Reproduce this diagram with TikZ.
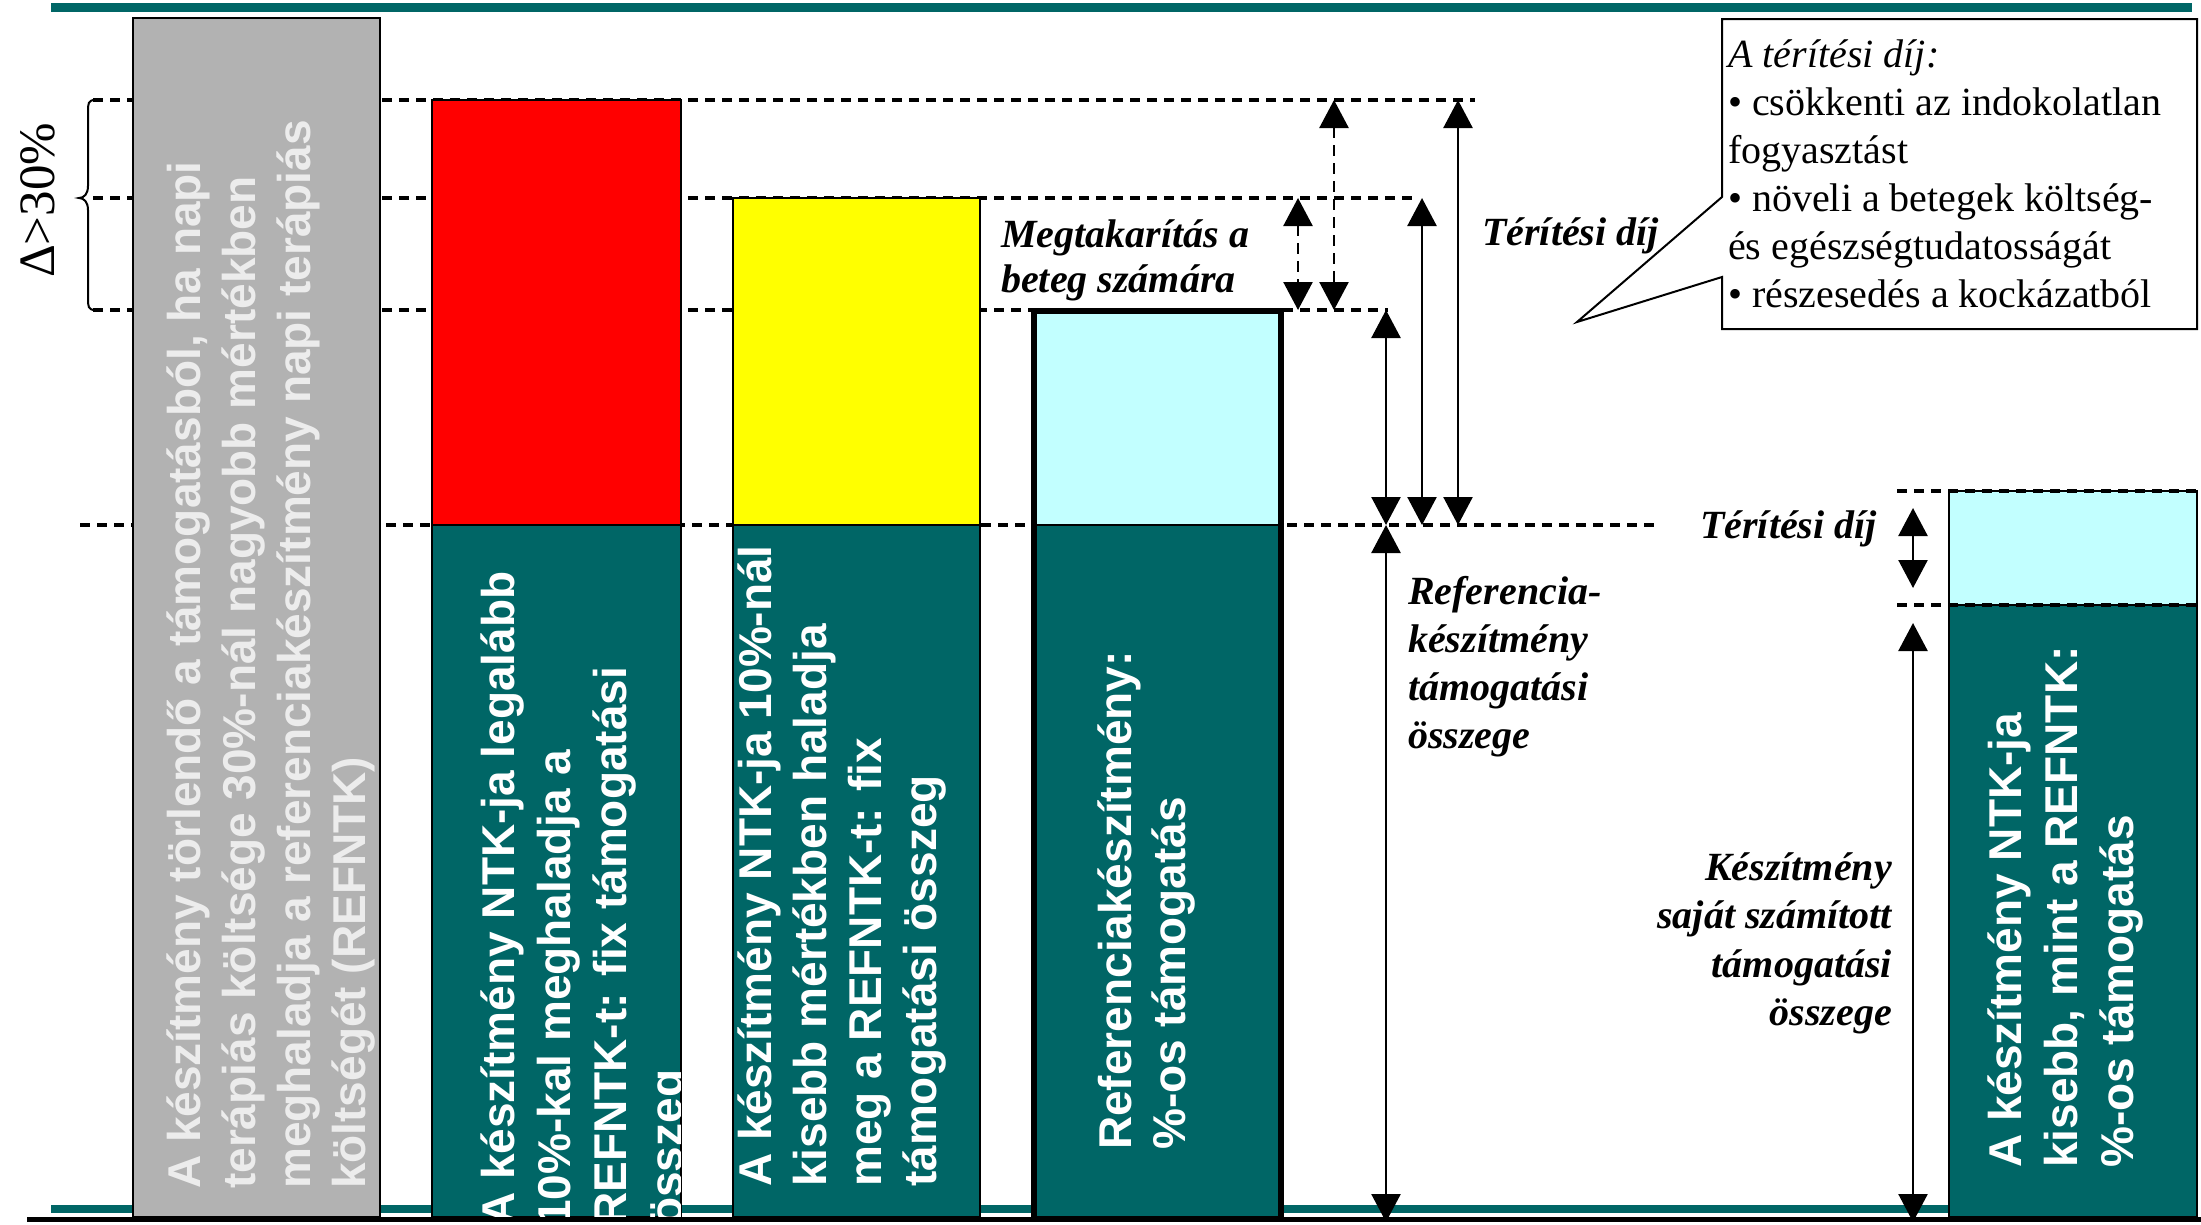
\documentclass[tikz,border=0pt]{standalone}
\usepackage{fontspec}
\setmainfont{Liberation Serif}
\newfontfamily\barfont{Liberation Sans}
\usetikzlibrary{arrows.meta}

\definecolor{barteal}{RGB}{0,102,102}
\definecolor{bargrey}{RGB}{178,178,178}
\definecolor{greytext}{RGB}{236,236,236}
\definecolor{feecyan}{RGB}{194,255,255}
\definecolor{pureyellow}{RGB}{255,255,0}

\begin{document}
\begin{tikzpicture}[x=1pt,y=-1pt,
  levelline/.style={line width=3.2pt, dash pattern=on 10pt off 7pt},
  barframe/.style={draw=black, line width=2pt},
  bartxt/.style={rotate=90, anchor=base west, inner sep=0pt, text=white,
    font=\barfont\bfseries\fontsize{46}{55}\selectfont},
  lbl/.style={inner sep=0pt, anchor=base west,
    font=\bfseries\itshape\fontsize{40}{48}\selectfont},
  lblr/.style={lbl, anchor=base east},
  notetxt/.style={inner sep=0pt, anchor=base west, font=\fontsize{40}{48}\selectfont},
  dimarrow/.style={line width=2.5pt,
    {Triangle[length=28pt,width=29pt]}-{Triangle[length=28pt,width=29pt]}},
  dimarrowdash/.style={dimarrow, dash pattern=on 11pt off 7pt}]

\useasboundingbox (0,0) rectangle (2201,1224);

% teal rules at top and bottom
\draw[barteal, line width=9pt] (51,7.5) -- (2192,7.5);
\draw[barteal, line width=8pt] (51,1209) -- (2192,1209);

% reference levels
\coordinate (LA0) at (93,100);   \coordinate (LA1) at (1475,100);
\coordinate (LB0) at (93,198);   \coordinate (LB1) at (1419,198);
\coordinate (LC0) at (93,310);   \coordinate (LC1) at (1388,310);
\coordinate (LD0) at (80,525);   \coordinate (LD1) at (1660,525);
\coordinate (LE0) at (1897,491); \coordinate (LE1) at (2197,491);
\coordinate (LF0) at (1897,605); \coordinate (LF1) at (2197,605);
\foreach \l in {A,B,C,D}
  \draw[levelline] (L\l0) -- (L\l1);

% bar 1: grey
\path[fill=bargrey, barframe] (133,18) rectangle (380,1217);
% bar 2: red over teal
\path[fill=red, barframe] (432,100) rectangle (681,525);
\path[fill=barteal, barframe] (432,525) rectangle (681,1217);
% bar 3: yellow over teal
\path[fill=pureyellow, barframe] (733,198) rectangle (980,525);
\path[fill=barteal, barframe] (733,525) rectangle (980,1217);
% bar 4: reference product, heavy frame
\path[fill=feecyan, barframe] (1034,311) rectangle (1281,525);
\path[fill=barteal, barframe] (1034,525) rectangle (1281,1219);
\draw[line width=6pt] (1034,311) rectangle (1281,1219);
% bar 5: product cheaper than the reference
\path[fill=feecyan, barframe] (1949,491) rectangle (2197,605);
\path[fill=barteal, barframe] (1949,605) rectangle (2197,1217);
\foreach \l in {E,F}
  \draw[levelline] (L\l0) -- (L\l1);

% bar texts
\begin{scope}
  \clip (134,19) rectangle (379,1216);
  \foreach \t [count=\i from 0] in {{A készítmény törlendő a támogatásból, ha napi},
      {terápiás költsége 30\%-nál nagyobb mértékben},
      {meghaladja a referenciakészítmény napi terápiás},
      {költségét (REFNTK)}}
    \node[bartxt, text=greytext] (g\i) at ({200+55*\i},1189) {\t};
\end{scope}
\begin{scope}
  \clip (433,526) rectangle (680,1216);
  \foreach \t [count=\i from 0] in {{A készítmény NTK-ja legalább},
      {10\%-kal meghaladja a},{REFNTK-t: fix támogatási},{összeg}}
    \node[bartxt] (r\i) at ({514+56*\i},1226) {\t};
\end{scope}
\begin{scope}
  \clip (734,526) rectangle (979,1216);
  \foreach \t [count=\i from 0] in {{A készítmény NTK-ja 10\%-nál},
      {kisebb mértékben haladja},{meg a REFNTK-t: fix},{támogatási összeg}}
    \node[bartxt] (y\i) at ({771+55*\i},1187) {\t};
\end{scope}
\foreach \t [count=\i from 0] in {{Referenciakészítmény:},{\%-os támogatás}}
  \node[bartxt] (c\i) at ({1131+54*\i},1150) {\t};
\foreach \t [count=\i from 0] in {{A készítmény NTK-ja},
    {kisebb, mint a REFNTK:},{\%-os támogatás}}
  \node[bartxt] (k\i) at ({2021+56*\i},1168) {\t};

% base line
\draw[line width=5pt] (27,1219.5) -- (2201,1219.5);

% brace marking the 30 % band
\draw[line width=2pt] (95,100) .. controls (88,100) and (88,104) .. (88,112)
  -- (88,186) .. controls (88,194) and (84,198) .. (79,198)
  .. controls (84,198) and (88,202) .. (88,210)
  -- (88,298) .. controls (88,306) and (88,310) .. (95,310);
\node[rotate=90, anchor=base west, inner sep=0pt,
  font=\fontsize{51}{60}\selectfont] (delta) at (54,278) {Δ>30\%};

% dimension arrows
\coordinate (d1t) at (1334,100); \coordinate (d1b) at (1334,310);
\coordinate (d2t) at (1298,198); \coordinate (d2b) at (1298,310);
\coordinate (d3t) at (1386,310); \coordinate (d3b) at (1386,525);
\coordinate (d4t) at (1422,198); \coordinate (d4b) at (1422,525);
\coordinate (d5t) at (1458,100); \coordinate (d5b) at (1458,525);
\coordinate (d6t) at (1386,525); \coordinate (d6b) at (1386,1222);
\coordinate (d7t) at (1913,508); \coordinate (d7b) at (1913,588);
\coordinate (d8t) at (1913,623); \coordinate (d8b) at (1913,1222);
\draw[dimarrowdash] (d1t) -- (d1b);
\draw[dimarrowdash] (d2t) -- (d2b);
\foreach \a in {3,...,8}
  \draw[dimarrow] (d\a t) -- (d\a b);

% labels
\node[lbl] (sav1) at (1001,247) {Megtakarítás a};
\node[lbl] (sav2) at (1001,292) {beteg számára};
\node[lbl] (fee1) at (1482,245) {Térítési díj};
\node[lbl] (fee2) at (1700,538) {Térítési díj};
\foreach \t [count=\i from 0] in {Referencia-,készítmény,támogatási,összege}
  \node[lbl] (ref\i) at (1408,{604+48*\i}) {\t};
\foreach \t [count=\i from 0] in {Készítmény,saját számított,támogatási,összege}
  \node[lblr] (own\i) at (1892,{880+48.5*\i}) {\t};

% callout
\draw[line width=2pt, fill=white] (1722,19) -- (2197,19) -- (2197,329)
  -- (1722,329) -- (1722,277) -- (1577,322) -- (1722,197) -- cycle;
\node[notetxt, font=\itshape\fontsize{40}{48}\selectfont] (n0) at (1728,67) {A térítési díj:};
\foreach \t [count=\i from 1] in {• csökkenti az indokolatlan,fogyasztást,
    • növeli a betegek költség-,és egészségtudatosságát,• részesedés a kockázatból}
  \node[notetxt] (n\i) at (1728,{67+48*\i}) {\t};
\end{tikzpicture}
\end{document}
